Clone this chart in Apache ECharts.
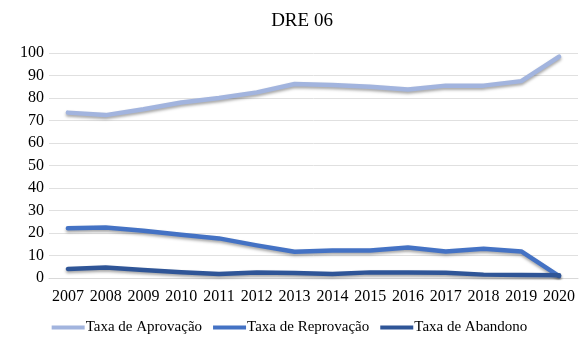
<!DOCTYPE html>
<html>
<head>
<meta charset="utf-8">
<script src="https://cdn.jsdelivr.net/npm/echarts@6/dist/echarts.min.js"></script>
<style>
html,body{margin:0;padding:0;background:#fff;}
#chart{width:579px;height:340px;}
</style>
</head>
<body>
<div id="chart"></div>
<script>
const years = ['2007','2008','2009','2010','2011','2012','2013','2014','2015','2016','2017','2018','2019','2020'];
const aprovacao = [73.5, 72.4, 75.0, 78.0, 80.0, 82.5, 86.2, 85.8, 85.0, 83.8, 85.5, 85.5, 87.5, 98.4];
const reprovacao = [22.1, 22.4, 21.0, 19.2, 17.6, 14.5, 11.7, 12.2, 12.2, 13.6, 11.8, 13.0, 11.8, 0.8];
const abandono = [4.0, 4.7, 3.6, 2.6, 1.8, 2.4, 2.2, 1.8, 2.5, 2.5, 2.3, 1.5, 1.3, 1.2];
const yTicks = { min: 0, max: 100, interval: 10 };

const FONT = 'Liberation Serif';

function lineSeries(name, data, color) {
  return {
    name: name,
    type: 'line',
    data: data,
    symbol: 'none',
    smooth: false,
    lineStyle: {
      color: color,
      width: 4.5,
      cap: 'round',
      join: 'round',
      shadowColor: 'rgba(0,0,0,0.35)',
      shadowBlur: 3,
      shadowOffsetY: 2
    },
    itemStyle: { color: color }
  };
}

const chart = echarts.init(document.getElementById('chart'));
chart.setOption({
  animation: false,
  backgroundColor: '#ffffff',
  title: {
    text: 'DRE 06',
    left: 297,
    top: 7,
    textAlign: 'center',
    textStyle: { fontFamily: FONT, fontSize: 19, fontWeight: 'normal', color: '#000' }
  },
  grid: { left: 49, right: 1, top: 53, bottom: 62 },
  xAxis: {
    type: 'category',
    data: years,
    boundaryGap: true,
    axisLine: { show: true, lineStyle: { color: '#d9d9d9' } },
    axisTick: { show: false },
    axisLabel: { fontFamily: FONT, fontSize: 16, color: '#000', margin: 11, interval: 0 }
  },
  yAxis: {
    type: 'value',
    min: yTicks.min,
    max: yTicks.max,
    interval: yTicks.interval,
    axisLine: { show: false },
    axisTick: { show: false },
    splitLine: { lineStyle: { color: '#e0e0e0', width: 1 } },
    axisLabel: { fontFamily: FONT, fontSize: 16, color: '#000', margin: 5 }
  },
  legend: {
    top: 315,
    left: 'center',
    itemWidth: 33,
    itemHeight: 4,
    itemGap: 11,
    icon: 'rect',
    textStyle: { fontFamily: FONT, fontSize: 15, color: '#000', padding: [0, 0, 0, -4] },
    data: ['Taxa de Aprovação', 'Taxa de Reprovação', 'Taxa de Abandono']
  },
  series: [
    lineSeries('Taxa de Aprovação', aprovacao, '#a2b4de'),
    lineSeries('Taxa de Reprovação', reprovacao, '#4472c4'),
    lineSeries('Taxa de Abandono', abandono, '#2f5597')
  ]
});
</script>
</body>
</html>
